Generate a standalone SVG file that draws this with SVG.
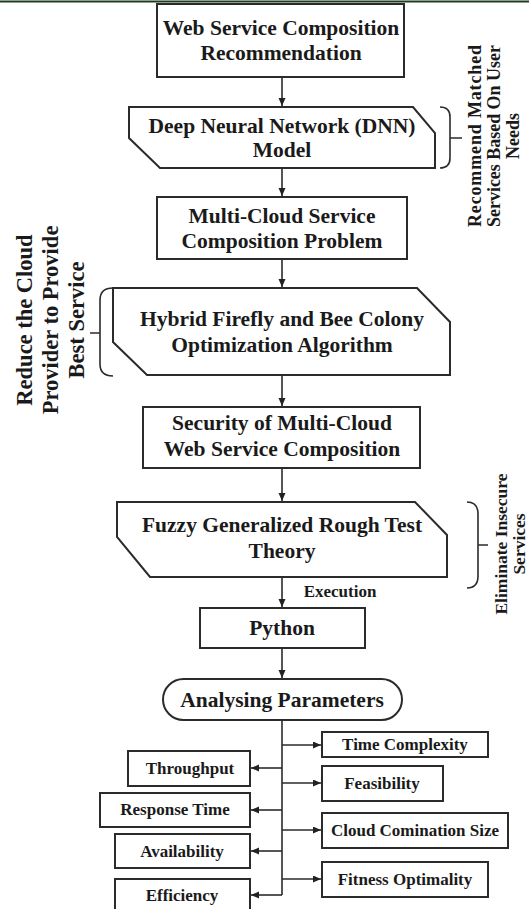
<svg xmlns="http://www.w3.org/2000/svg" width="529" height="909" viewBox="0 0 529 909">
<style>
  .bx{fill:#fff;stroke:#2b2b2b;stroke-width:2}
  .t{font-family:"Liberation Serif","Times New Roman",serif;font-weight:bold;fill:#1a1a1a;text-anchor:middle}
  .L{font-size:21.5px}
  .S{font-size:17px}
  .ln{fill:none;stroke:#2b2b2b;stroke-width:1.6}
  .br{fill:none;stroke:#2b2b2b;stroke-width:1.6}
</style>
<defs>
  <marker id="ah" markerUnits="userSpaceOnUse" markerWidth="9" markerHeight="8" refX="8" refY="3.5" orient="auto">
    <path d="M0,0 L8,3.5 L0,7 z" fill="#222"/>
  </marker>
</defs>
<rect x="0" y="0" width="529" height="909" fill="#fff"/>
<line x1="0" y1="1.5" x2="529" y2="1.5" stroke="#1f3d1f" stroke-width="2"/>

<g id="n1">
  <rect class="bx" x="157" y="4" width="247" height="73"/>
  <text class="t L" x="281" y="35">Web Service Composition</text>
  <text class="t L" x="281" y="60">Recommendation</text>
</g>
<g id="n2">
  <path class="bx" d="M129,107 L413,107 L435,133 L435,168 L160,168 L129,138 Z"/>
  <text class="t L" x="282" y="133">Deep Neural Network (DNN)</text>
  <text class="t L" x="282" y="157">Model</text>
</g>
<g id="n3">
  <rect class="bx" x="157" y="197" width="250" height="62"/>
  <text class="t L" x="282" y="223">Multi-Cloud Service</text>
  <text class="t L" x="282" y="248">Composition Problem</text>
</g>
<g id="n4">
  <path class="bx" d="M113,288 L417,288 L450,322 L450,375 L147,375 L113,342 Z"/>
  <text class="t L" x="282" y="326">Hybrid Firefly and Bee Colony</text>
  <text class="t L" x="282" y="352">Optimization Algorithm</text>
</g>
<g id="n5">
  <rect class="bx" x="143" y="407" width="277" height="61"/>
  <text class="t L" x="282" y="430">Security of Multi-Cloud</text>
  <text class="t L" x="282" y="456">Web Service Composition</text>
</g>
<g id="n6">
  <path class="bx" d="M117,502 L415,502 L447,535 L447,577 L150,577 L117,537 Z"/>
  <text class="t L" x="282" y="532">Fuzzy Generalized Rough Test</text>
  <text class="t L" x="282" y="558">Theory</text>
</g>
<g id="n7">
  <rect class="bx" x="200" y="608" width="165" height="40"/>
  <text class="t L" x="282" y="635">Python</text>
</g>
<g id="n8">
  <rect class="bx" x="163" y="679" width="239" height="41" rx="20.5" ry="20.5"/>
  <text class="t L" x="282" y="707">Analysing Parameters</text>
</g>
<g id="n9">
  <rect class="bx" x="322" y="732" width="166" height="25"/>
  <text class="t S" x="405" y="750">Time Complexity</text>
</g>
<g id="n10">
  <rect class="bx" x="322" y="766" width="121" height="35"/>
  <text class="t S" x="382" y="789">Feasibility</text>
</g>
<g id="n11">
  <rect class="bx" x="322" y="813" width="186" height="35"/>
  <text class="t S" x="415" y="836">Cloud Comination Size</text>
</g>
<g id="n12">
  <rect class="bx" x="322" y="862" width="166" height="35"/>
  <text class="t S" x="405" y="885">Fitness Optimality</text>
</g>
<g id="n13">
  <rect class="bx" x="128" y="751" width="122" height="35"/>
  <text class="t S" x="190" y="774">Throughput</text>
</g>
<g id="n14">
  <rect class="bx" x="100" y="793" width="150" height="34"/>
  <text class="t S" x="175" y="815">Response Time</text>
</g>
<g id="n15">
  <rect class="bx" x="115" y="834" width="135" height="34"/>
  <text class="t S" x="182" y="857">Availability</text>
</g>
<g id="n16">
  <rect class="bx" x="115" y="879" width="135" height="34"/>
  <text class="t S" x="182" y="901">Efficiency</text>
</g>

<g id="annotations">
  <path class="br" d="M440,107 Q450,107 450,117 L450,158 Q450,168 440,168 M450,138 L462,138"/>
  <text class="t" font-size="18" transform="translate(481,136) rotate(-90)"><tspan x="0" y="0" textLength="182" lengthAdjust="spacing">Recommend Matched</tspan><tspan x="0" y="19" textLength="182" lengthAdjust="spacing">Services Based On User</tspan><tspan x="0" y="38">Needs</tspan></text>
  <path class="br" d="M113,288 Q100,288 100,300 L100,364 Q100,376 113,376 M100,333 L90,333"/>
  <text class="t" font-size="22.5" transform="translate(32,320) rotate(-90)"><tspan x="0" y="0">Reduce the Cloud</tspan><tspan x="0" y="26">Provider to Provide</tspan><tspan x="0" y="52">Best Service</tspan></text>
  <path class="br" d="M467,502 Q478,502 478,514 L478,576 Q478,588 467,588 M478,545 L488,545"/>
  <text class="t" font-size="17.5" transform="translate(507,544) rotate(-90)"><tspan x="0" y="0">Eliminate Insecure</tspan><tspan x="0" y="17.5">Services</tspan></text>
  <text class="t S" x="340" y="597">Execution</text>
</g>

<g id="connectors">
  <line class="ln" x1="282" y1="77" x2="282" y2="106" marker-end="url(#ah)"/>
  <line class="ln" x1="282" y1="168" x2="282" y2="196" marker-end="url(#ah)"/>
  <line class="ln" x1="282" y1="259" x2="282" y2="287" marker-end="url(#ah)"/>
  <line class="ln" x1="282" y1="375" x2="282" y2="406" marker-end="url(#ah)"/>
  <line class="ln" x1="282" y1="468" x2="282" y2="501" marker-end="url(#ah)"/>
  <line class="ln" x1="282" y1="577" x2="282" y2="607" marker-end="url(#ah)"/>
  <line class="ln" x1="282" y1="648" x2="282" y2="678" marker-end="url(#ah)"/>
  <line class="ln" x1="282" y1="720" x2="282" y2="895"/>
  <line class="ln" x1="282" y1="745" x2="321" y2="745" marker-end="url(#ah)"/>
  <line class="ln" x1="282" y1="783" x2="321" y2="783" marker-end="url(#ah)"/>
  <line class="ln" x1="282" y1="830" x2="321" y2="830" marker-end="url(#ah)"/>
  <line class="ln" x1="282" y1="879" x2="321" y2="879" marker-end="url(#ah)"/>
  <line class="ln" x1="282" y1="768" x2="251" y2="768" marker-end="url(#ah)"/>
  <line class="ln" x1="282" y1="810" x2="251" y2="810" marker-end="url(#ah)"/>
  <line class="ln" x1="282" y1="851" x2="251" y2="851" marker-end="url(#ah)"/>
  <line class="ln" x1="282" y1="895" x2="251" y2="895" marker-end="url(#ah)"/>
</g>
</svg>
